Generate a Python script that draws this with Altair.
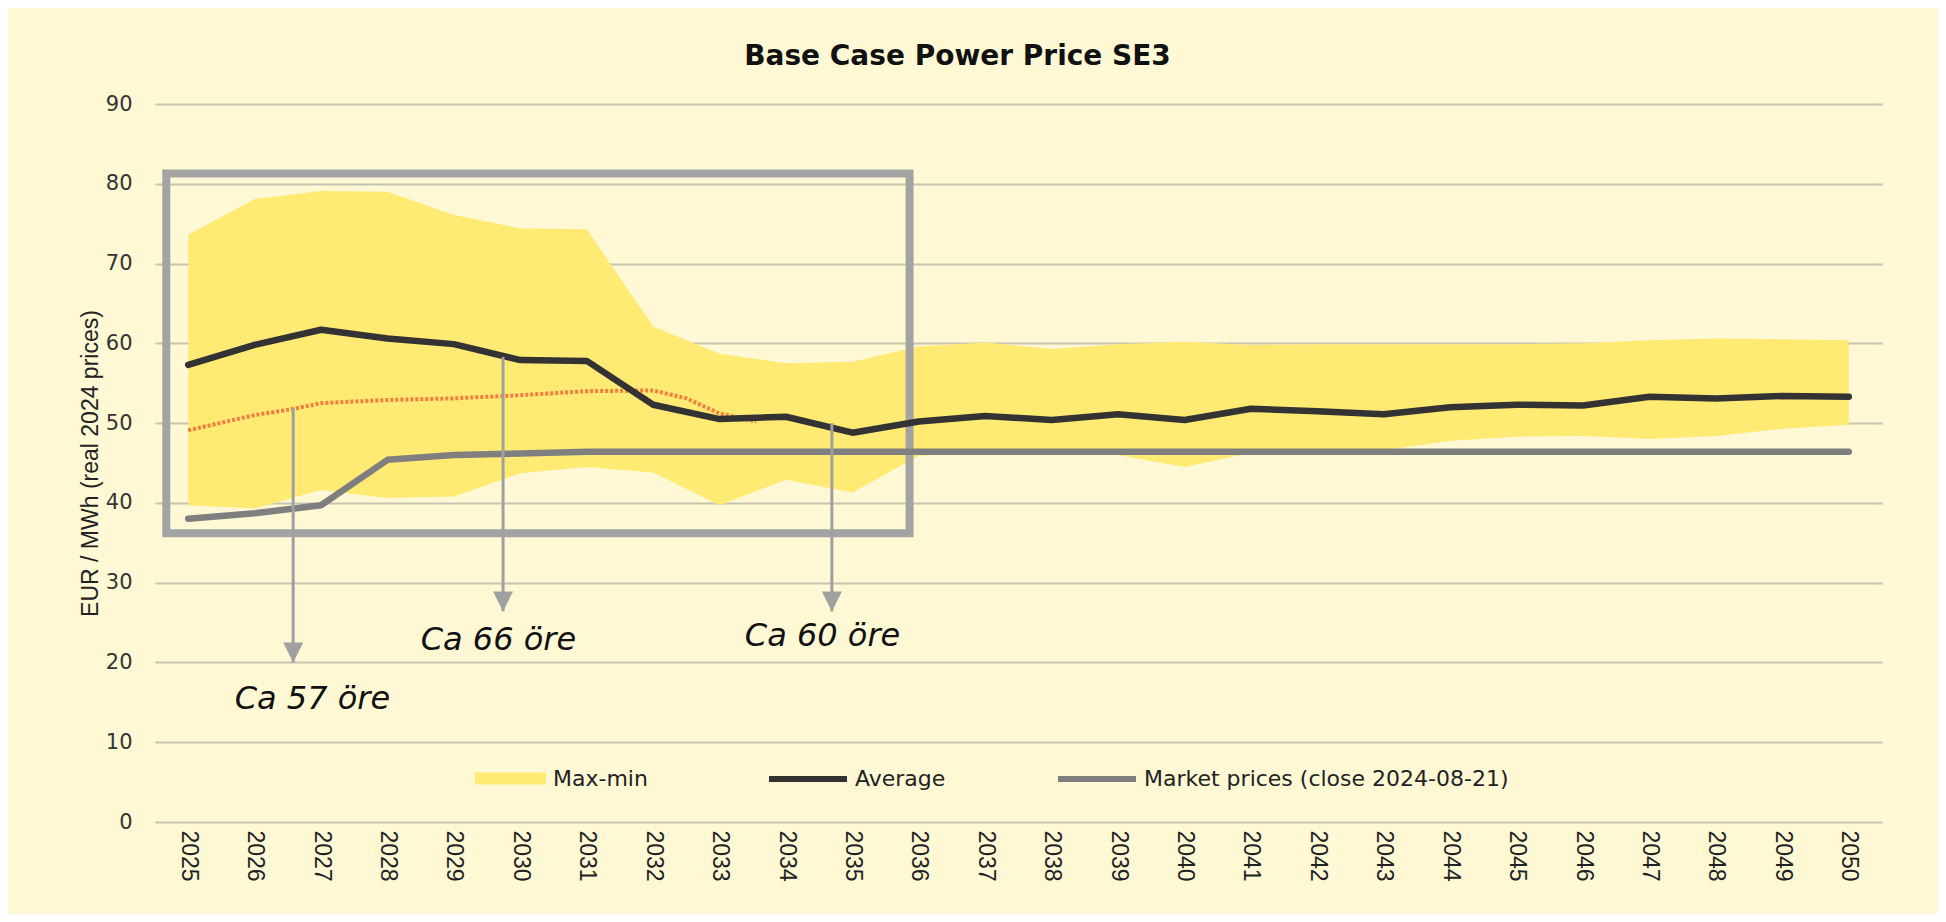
import altair as alt
import pandas as pd

# ---------------- data ----------------
years = list(range(2025, 2051))
average = [57.3, 59.8, 61.7, 60.6, 59.9, 57.9, 57.8, 52.3, 50.5, 50.8, 48.8, 50.2, 50.9,
           50.4, 51.1, 50.4, 51.8, 51.5, 51.1, 52.0, 52.3, 52.2, 53.3, 53.1, 53.4, 53.3]
market = [38.0, 38.7, 39.7, 45.4, 46.0, 46.2, 46.4, 46.4, 46.4, 46.4, 46.4, 46.4, 46.4,
          46.4, 46.4, 46.4, 46.4, 46.4, 46.4, 46.4, 46.4, 46.4, 46.4, 46.4, 46.4, 46.4]
band_max = [73.6, 78.1, 79.1, 79.0, 76.1, 74.4, 74.3, 62.1, 58.7, 57.5, 57.7, 59.6, 60.1,
            59.3, 59.9, 60.2, 59.8, 59.9, 59.9, 59.9, 59.9, 60.0, 60.4, 60.6, 60.5, 60.4]
band_min = [39.7, 39.3, 41.6, 40.6, 40.8, 43.7, 44.5, 43.8, 39.7, 42.9, 41.3, 45.9, 46.3,
            46.3, 46.0, 44.5, 46.3, 46.4, 46.6, 47.8, 48.3, 48.4, 48.0, 48.4, 49.3, 49.8]

# hand-drawn orange estimate line
est_years = [2025, 2026, 2026.6, 2027, 2028, 2029, 2030, 2031, 2032, 2032.5, 2033, 2033.55]
est_values = [49.1, 51.0, 51.8, 52.5, 52.9, 53.1, 53.5, 54.0, 54.1, 53.1, 51.2, 50.2]

# annotation box (data coordinates)
box_x = [2024.67]
box_x2 = [2035.86]
box_top = [81.3]
box_bottom = [36.2]

# annotation arrows and texts
arrow_x = [2026.58, 2029.74, 2034.69]
arrow_top = [51.9, 58.3, 50.0]
arrow_tip = [20.0, 26.4, 26.4]
note_x = [2026.87, 2029.67, 2034.55]
note_y = [15.4, 22.8, 23.3]
note_text = ["Ca 57 öre", "Ca 66 öre", "Ca 60 öre"]

y_ticks = list(range(0, 91, 10))

BAND_LABEL = "Max-min"
AVG_LABEL = "Average"
MKT_LABEL = "Market prices (close 2024-08-21)"
Y_TITLE = "EUR / MWh (real 2024 prices)"

# ---------------- styling ----------------
BG = "#FEF9D4"
YELLOW = "#FFEA73"
GRID = "#C8C4B2"
BOX = "#A3A3A3"
ARROW = "#A0A0A0"

band_df = pd.DataFrame({"year": years, "max": band_max, "min": band_min,
                        "series": [BAND_LABEL] * len(years)})
lines_df = pd.concat([
    pd.DataFrame({"year": years, "value": average, "series": AVG_LABEL}),
    pd.DataFrame({"year": years, "value": market, "series": MKT_LABEL}),
])
est_df = pd.DataFrame({"year": est_years, "value": est_values})
box_df = pd.DataFrame({"year": box_x, "year2": box_x2, "value": box_top, "value2": box_bottom})
arrow_df = pd.DataFrame({"year": arrow_x, "value": arrow_top, "value2": arrow_tip})
head_df = pd.DataFrame({"year": arrow_x, "value": arrow_tip})
note_df = pd.DataFrame({"year": note_x, "value": note_y, "text": note_text})

xs = alt.Scale(domain=[2024.5, 2050.5], nice=False, zero=False)
ys = alt.Scale(domain=[0, 90], nice=False, zero=False)

x_axis = alt.Axis(values=years, format="d", labelAngle=90, labelAlign="left",
                  labelBaseline="middle", labelFont="Liberation Sans", labelFontSize=23,
                  labelColor="#222222", labelPadding=8, grid=False, domain=False,
                  ticks=False, tickSize=0, labelFlush=False, labelOverlap=False, title=None)
y_axis = alt.Axis(values=y_ticks, grid=True, gridColor=GRID, gridWidth=2, domain=False,
                  ticks=False, tickSize=0, labelFont="DejaVu Sans", labelFontSize=21,
                  labelColor="#333333", labelPadding=23,
                  title=Y_TITLE, titleFont="Liberation Sans",
                  titleFontSize=23, titleFontWeight="normal", titleColor="#222222",
                  titleAngle=270, titleX=-65, titleY=359, titleAlign="center",
                  titleBaseline="middle")


def X(field="year"):
    return alt.X(f"{field}:Q", scale=xs, axis=x_axis, title=None)


def Y(field="value"):
    return alt.Y(f"{field}:Q", scale=ys, axis=y_axis, title=Y_TITLE)


band = alt.Chart(band_df).mark_area(opacity=1).encode(
    x=X("year"),
    y=Y("max"),
    y2="min:Q",
    fill=alt.Fill("series:N", scale=alt.Scale(domain=[BAND_LABEL], range=[YELLOW]),
                  legend=alt.Legend(title=None, orient="none", legendX=320, legendY=639,
                                    direction="horizontal",
                                    symbolType="M-1,-0.17H1V0.17H-1Z", symbolSize=5041,
                                    symbolStrokeWidth=0, symbolOpacity=1,
                                    labelFont="DejaVu Sans", labelFontSize=22,
                                    labelColor="#222222", labelOffset=7, padding=0,
                                    labelLimit=600)),
)

box = alt.Chart(box_df).mark_rect(fill="transparent", stroke=BOX, strokeWidth=8).encode(
    x=X("year"),
    x2="year2:Q",
    y=Y("value"),
    y2="value2:Q",
)

est = alt.Chart(est_df).mark_line(color="#F26A38", strokeWidth=4, strokeDash=[3, 2],
                                  opacity=0.85).encode(
    x=X("year"),
    y=Y("value"),
)

lines = alt.Chart(lines_df).mark_line(strokeWidth=6.5, strokeCap="round",
                                      strokeJoin="round").encode(
    x=X("year"),
    y=Y("value"),
    stroke=alt.Stroke("series:N",
                      scale=alt.Scale(domain=[AVG_LABEL, MKT_LABEL],
                                      range=["#333333", "#7F7F7F"]),
                      legend=alt.Legend(title=None, orient="none", legendX=611, legendY=633,
                                        direction="horizontal", symbolType="stroke",
                                        symbolSize=6084, symbolStrokeWidth=6,
                                        labelFont="DejaVu Sans", labelFontSize=22,
                                        labelColor="#222222", labelOffset=5,
                                        columnPadding=100, padding=0, labelLimit=600)),
    detail="series:N",
)

arrows = alt.Chart(arrow_df).mark_rule(color=ARROW, strokeWidth=3).encode(
    x=X("year"),
    y=Y("value"),
    y2="value2:Q",
)

heads = alt.Chart(head_df).mark_point(shape="M-1,-2L1,-2L0,0Z", filled=True, size=400,
                                      color=ARROW, opacity=1).encode(
    x=X("year"),
    y=Y("value"),
)

notes = alt.Chart(note_df).mark_text(font="DejaVu Sans", fontStyle="italic", fontSize=32,
                                     color="#111111", align="center",
                                     baseline="middle").encode(
    x=X("year"),
    y=Y("value"),
    text="text:N",
)

chart = alt.layer(band, box, est, lines, arrows, heads, notes).properties(
    width=1727,
    height=718,
    autosize=alt.AutoSizeParams(type="none"),
    padding={"left": 147, "top": 96, "right": 56, "bottom": 92},
    background=BG,
    title=alt.TitleParams("Base Case Power Price SE3", font="DejaVu Sans", fontSize=28,
                          fontWeight="bold", color="#111111", anchor="middle",
                          baseline="alphabetic", offset=0, dx=-61),
).configure_view(stroke=None)

chart.save("out.html", embed_options={"renderer": "svg", "actions": False})
